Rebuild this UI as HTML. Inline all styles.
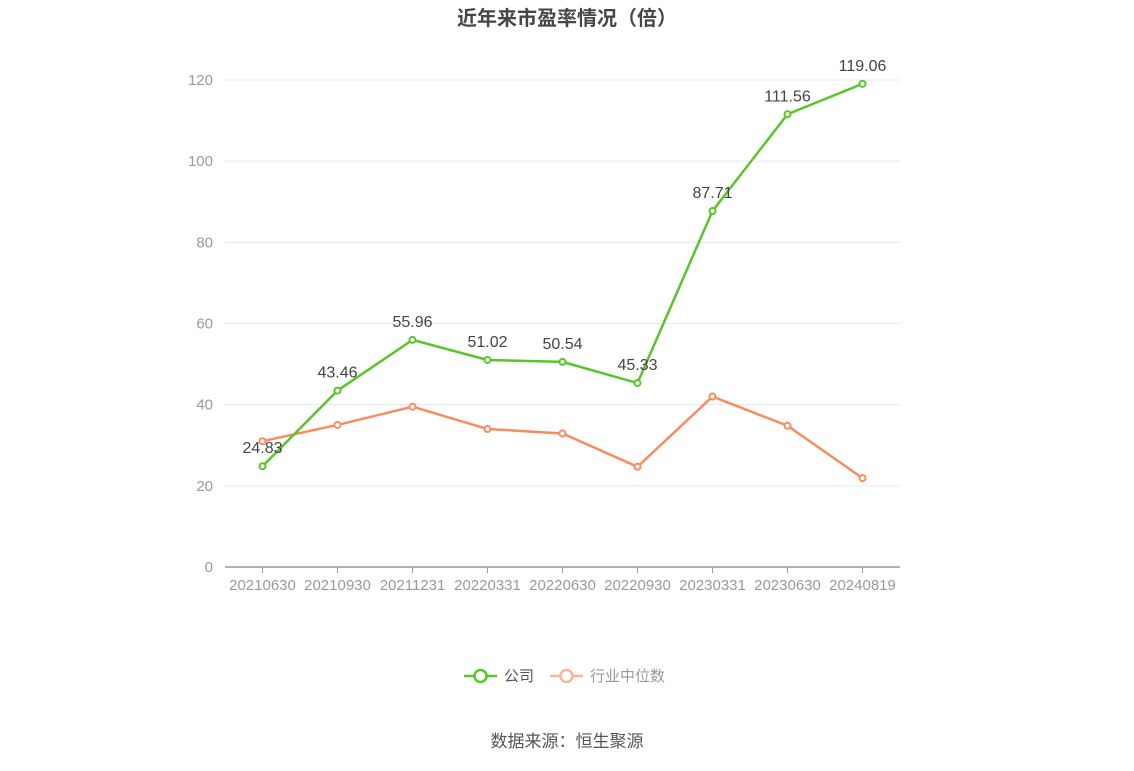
<!DOCTYPE html>
<html><head><meta charset="utf-8"><style>
body{margin:0;background:#fff;font-family:"Liberation Sans","Noto Sans CJK SC",sans-serif}
</style></head><body>
<svg id="c" width="1134" height="766" xmlns="http://www.w3.org/2000/svg" font-family="Liberation Sans, Noto Sans CJK SC, sans-serif">
<text x="567" y="25" text-anchor="middle" font-size="20" font-weight="bold" fill="#464646">近年来市盈率情况（倍）</text>
<g id="grid"></g><g id="series"></g>
<g>
<line x1="464" y1="676" x2="497" y2="676" stroke="#5ac52a" stroke-width="2.5"/>
<circle cx="480.5" cy="676" r="6" fill="#fff" stroke="#5ac52a" stroke-width="2.5"/>
<text x="504" y="681" font-size="15" fill="#555">公司</text>
<line x1="550" y1="676" x2="583" y2="676" stroke="#fbb49a" stroke-width="2.5"/>
<circle cx="566.5" cy="676" r="6" fill="#fff" stroke="#fbb49a" stroke-width="2.5"/>
<text x="590" y="681" font-size="15" fill="#999">行业中位数</text>
</g>
<text x="567" y="747" text-anchor="middle" font-size="17" fill="#555">数据来源：恒生聚源</text>
</svg>
<script>
const categories=["20210630","20210930","20211231","20220331","20220630","20220930","20230331","20230630","20240819"];
const companyPE=[24.83,43.46,55.96,51.02,50.54,45.33,87.71,111.56,119.06];
const industryPE=[31.0,35.0,39.5,34.0,32.9,24.7,42.0,34.8,21.9];
const yTicks=[0,20,40,60,80,100,120];
const NS="http://www.w3.org/2000/svg";
const x0=225,x1=900,y0=567,yTop=80,yMax=120;
const step=(x1-x0)/categories.length;
const xs=i=>x0+step*(i+0.5);
const ys=v=>y0-(v/yMax)*(y0-yTop);
function mk(tag,attrs,parent){const e=document.createElementNS(NS,tag);for(const k in attrs)e.setAttribute(k,attrs[k]);parent.appendChild(e);return e;}
const grid=document.getElementById('grid'),ser=document.getElementById('series');
yTicks.forEach(t=>{
  if(t>0){const l=mk('line',{x1:x0,x2:x1,y1:ys(t),y2:ys(t),stroke:'#e6e8f0','stroke-width':1},grid);
  
  }
  const tx=mk('text',{x:213,y:ys(t)+5,'text-anchor':'end','font-size':15,fill:'#999'},grid);tx.textContent=t;
  
  
});
const ax=mk('line',{x1:x0,x2:x1,y1:y0,y2:y0,stroke:'#999','stroke-width':1.5},grid);


categories.forEach((c,i)=>{
  mk('line',{x1:xs(i),x2:xs(i),y1:y0,y2:y0+6,stroke:'#999'},grid);
  const tx=mk('text',{x:xs(i),y:590,'text-anchor':'middle','font-size':15,fill:'#999'},grid);tx.textContent=c;
  
  
});
function line(vals,color,name,labels){
  const p=mk('polyline',{points:vals.map((v,i)=>xs(i)+','+ys(v)).join(' '),fill:'none',stroke:color,'stroke-width':2.5},ser);
  
  
  vals.forEach((v,i)=>{
    const c=mk('circle',{cx:xs(i),cy:ys(v),r:3,fill:'#fff',stroke:color,'stroke-width':2},ser);
    
    
    if(labels){const t=mk('text',{x:xs(i),y:ys(v)-13,'text-anchor':'middle','font-size':16,fill:'#444'},ser);t.textContent=v.toFixed(2);
    
    }
  });
}
line(industryPE,'#f98b5e','industry',false);
line(companyPE,'#5ac52a','company',true);
</script>
</body></html>
